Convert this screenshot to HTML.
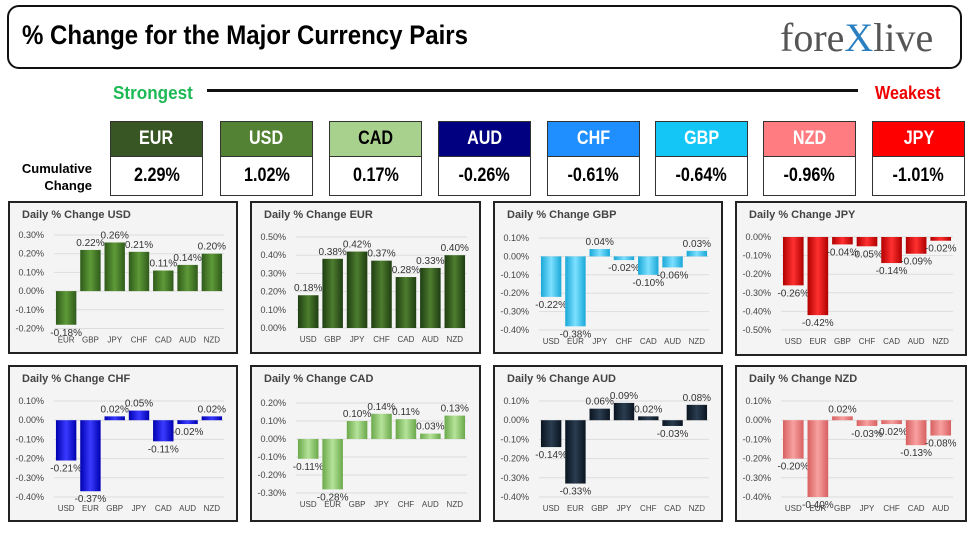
<!DOCTYPE html><html><head><meta charset="utf-8"><style>
body{margin:0;width:975px;height:534px;background:#fff;position:relative;overflow:hidden;font-family:"Liberation Sans",sans-serif}
.a{position:absolute}
.t{left:7px;top:5px;width:955px;height:64px;border:2px solid #111;border-radius:12px;box-sizing:border-box}
.h{font-family:"Liberation Sans Narrow","Liberation Sans",sans-serif;font-weight:bold}
.card{width:93px;box-sizing:border-box;border:1px solid #333}
.card .n{height:34px;line-height:34px;text-align:center;color:#fff;font-size:19px}
.card .v{height:38px;line-height:38px;text-align:center;background:#fff;font-size:19px;border-top:1px solid #333}
.card span{display:inline-block;transform:scaleX(0.85)}
.p{border:2px solid #222;box-sizing:border-box;background:#f4f4f4}
</style></head><body>
<div class="a t"></div>
<div class="a h" style="left:22px;top:20px;font-size:27px;transform:scaleX(0.89);transform-origin:0 0;white-space:nowrap">% Change for the Major Currency Pairs</div>
<div class="a" style="left:780px;top:14px;font-family:'Liberation Serif',serif;font-size:40px;color:#555">fore<span style="color:#2a7fc0">X</span>live</div>
<div class="a h" style="left:113px;top:83px;font-size:18px;color:#1db954;transform:scaleX(0.95);transform-origin:0 0">Strongest</div>
<div class="a" style="left:207px;top:89px;width:651px;height:3px;background:#111"></div>
<div class="a h" style="left:875px;top:83px;font-size:18px;color:#e00;transform:scaleX(0.9);transform-origin:0 0">Weakest</div>
<div class="a h" style="left:10px;top:160px;font-size:13px;text-align:right;width:82px;line-height:17px">Cumulative<br>Change</div>
<div id="cards"></div><div id="charts"></div>
<script>
var cards=[["EUR","2.29%","#375623",110,"#fff"],["USD","1.02%","#548235",220,"#fff"],["CAD","0.17%","#a9d18e",329,"#000"],["AUD","-0.26%","#000080",438,"#fff"],["CHF","-0.61%","#1f8fff",547,"#fff"],["GBP","-0.64%","#13c6f5",655,"#fff"],["NZD","-0.96%","#ff7c80",763,"#fff"],["JPY","-1.01%","#ff0000",872,"#fff"]];
var h="";cards.forEach(function(c){h+='<div class="a card h" style="left:'+c[3]+'px;top:121px"><div class="n" style="background:'+c[2]+';color:'+c[4]+'"><span>'+c[0]+'</span></div><div class="v"><span>'+c[1]+'</span></div></div>'});
document.getElementById("cards").innerHTML=h;
function ch(px,py,pw,ph,title,cats,vals,col,dark,top,topY,step,n){
 var s='<div class="a p" style="left:'+px+'px;top:'+py+'px;width:'+pw+'px;height:'+ph+'px"></div>';
 s+='<svg class="a" style="left:0;top:0" width="975" height="534">';
 s+='<text x="'+(px+14)+'" y="'+(py+17)+'" font-size="11" font-weight="bold" fill="#444">Daily % Change '+title+'</text>';
 var x0=px+46,x1=px+pw-14,slot=(x1-x0)/7;
 for(var i=0;i<n;i++){var v=top-i*0.1,y=topY+i*step;
  s+='<line x1="'+x0+'" x2="'+x1+'" y1="'+y+'" y2="'+y+'" stroke="#ddd"/>';
  s+='<text x="'+(px+36)+'" y="'+(y+3)+'" font-size="9" fill="#444" text-anchor="end">'+(v<-0.001?'-':'')+Math.abs(v).toFixed(2)+'%</text>';}
 var zy=topY+top/0.1*step,last=topY+(n-1)*step;
 s+='<defs><linearGradient id="g'+title+'" x1="0" x2="1"><stop offset="0" stop-color="'+dark+'"/><stop offset=".5" stop-color="'+col+'"/><stop offset="1" stop-color="'+dark+'"/></linearGradient></defs>';
 for(var j=0;j<7;j++){var v=vals[j],cx=x0+slot*(j+.5),bh=Math.abs(v)/0.1*step,y=v>=0?zy-bh:zy;
  s+='<rect x="'+(cx-slot*0.42)+'" y="'+y+'" width="'+(slot*0.84)+'" height="'+Math.max(bh,1)+'" fill="url(#g'+title+')"/>';
  s+='<text x="'+cx+'" y="'+(last+14)+'" font-size="8" fill="#444" text-anchor="middle">'+cats[j]+'</text>';
  var ly=v>=0?zy-bh-4:zy+bh+11;
  s+='<text x="'+cx+'" y="'+ly+'" font-size="10" fill="#333" text-anchor="middle">'+v.toFixed(2)+'%</text>';}
 return s+'</svg>';}
var o="";
o+=ch(8,201,230,153,"USD",["EUR","GBP","JPY","CHF","CAD","AUD","NZD"],[-0.18,0.22,0.26,0.21,0.11,0.14,0.20],"#5e9a38","#2f5a1a",0.3,235,18.7,6);
o+=ch(250,201,231,153,"EUR",["USD","GBP","JPY","CHF","CAD","AUD","NZD"],[0.18,0.38,0.42,0.37,0.28,0.33,0.40],"#4d7d2e","#1f3d12",0.5,237,18.2,6);
o+=ch(493,201,230,153,"GBP",["USD","EUR","JPY","CHF","CAD","AUD","NZD"],[-0.22,-0.38,0.04,-0.02,-0.10,-0.06,0.03],"#7ee0ff","#18a8d8",0.1,238,18.4,6);
o+=ch(735,201,232,155,"JPY",["USD","EUR","GBP","CHF","CAD","AUD","NZD"],[-0.26,-0.42,-0.04,-0.05,-0.14,-0.09,-0.02],"#ff3030","#b00000",0,237,18.6,6);
o+=ch(8,365,230,157,"CHF",["USD","EUR","GBP","JPY","CAD","AUD","NZD"],[-0.21,-0.37,0.02,0.05,-0.11,-0.02,0.02],"#3a3aff","#0000b0",0.1,401,19.2,6);
o+=ch(250,365,231,157,"CAD",["USD","EUR","GBP","JPY","CHF","AUD","NZD"],[-0.11,-0.28,0.10,0.14,0.11,0.03,0.13],"#b5e39a","#6aa84a",0.2,403,18,6);
o+=ch(493,365,230,157,"AUD",["USD","EUR","GBP","JPY","CHF","CAD","NZD"],[-0.14,-0.33,0.06,0.09,0.02,-0.03,0.08],"#2a3d50","#0a1420",0.1,401,19.2,6);
o+=ch(735,365,232,157,"NZD",["USD","EUR","GBP","JPY","CHF","CAD","AUD"],[-0.20,-0.40,0.02,-0.03,-0.02,-0.13,-0.08],"#f8a0a0","#d86060",0.1,401,19.2,6);
document.getElementById("charts").innerHTML=o;
</script></body></html>
